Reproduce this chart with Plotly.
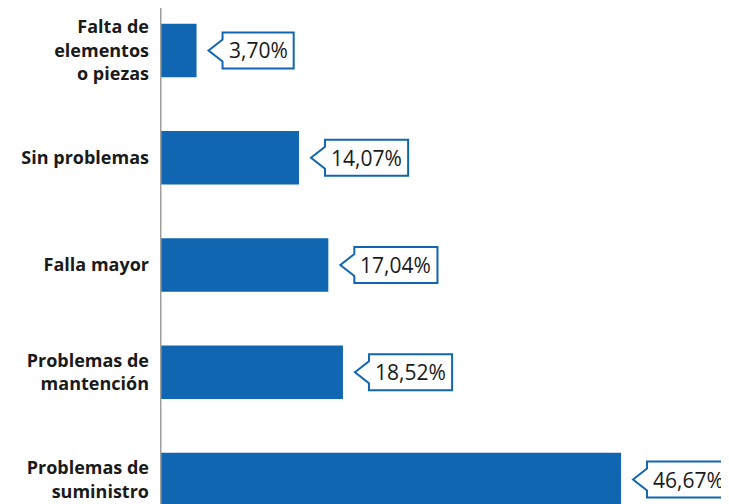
import plotly.graph_objects as go

categories = [
    "Problemas de<br>suministro",
    "Problemas de<br>mantención",
    "Falla mayor",
    "Sin problemas",
    "Falta de<br>elementos<br>o piezas",
]
values = [46.67, 18.52, 17.04, 14.07, 3.70]
labels = [f"{v:.2f}".replace(".", ",") + "%" for v in values]

blue = "#1166B1"
pos = list(range(len(categories)))

fig = go.Figure(go.Bar(
    x=values,
    y=pos,
    orientation="h",
    width=0.5,
    marker=dict(color=blue, line=dict(width=0)),
    hoverinfo="skip",
))

# callout size rough estimate from the label text
val_size = 21
char_w = {",": 0.26, "%": 0.84}

shapes = []
annotations = []
for p, v, lab in zip(pos, values, labels):
    text_w = sum(char_w.get(c, 0.572) for c in lab) * val_size
    tip = 12
    bl = tip + 14
    br = bl + text_w + 12
    h = 18
    n = 11
    path = (f"M {tip},0 L {bl},{n} L {bl},{h} L {br},{h} L {br},{-h} "
            f"L {bl},{-h} L {bl},{-n} Z")
    shapes.append(dict(
        type="path", xref="x", yref="y",
        xsizemode="pixel", ysizemode="pixel",
        xanchor=v, yanchor=p, path=path,
        line=dict(color=blue, width=2), fillcolor="white", layer="above",
    ))
    annotations.append(dict(
        x=v, y=p, xref="x", yref="y", text=lab, showarrow=False,
        xanchor="center", yanchor="middle", xshift=(bl + br) / 2,
        font=dict(family="Open Sans", size=val_size, color="#1a1a1a"),
    ))

# vertical axis line
shapes.append(dict(
    type="line", xref="x", yref="paper", x0=0, x1=0, y0=0, y1=1,
    line=dict(color="#9e9e9e", width=3), layer="above",
))

# page body has an 8px margin, so the figure is a bit smaller and shifted
fig.update_layout(
    width=721,
    height=496,
    margin=dict(l=152, r=0, t=0, b=0),
    plot_bgcolor="white",
    paper_bgcolor="white",
    showlegend=False,
    shapes=shapes,
    annotations=annotations,
    xaxis=dict(range=[0, 57.6], visible=False, fixedrange=True),
    yaxis=dict(
        range=[-0.228, 4.396],
        tickvals=pos,
        ticktext=[f"<b>{c}</b>" for c in categories],
        ticks="",
        ticklabelstandoff=10,
        showgrid=False,
        zeroline=False,
        showline=False,
        tickfont=dict(family="Open Sans", size=18, color="#1a1a1a"),
        fixedrange=True,
    ),
)

fig.write_html("out.html")
